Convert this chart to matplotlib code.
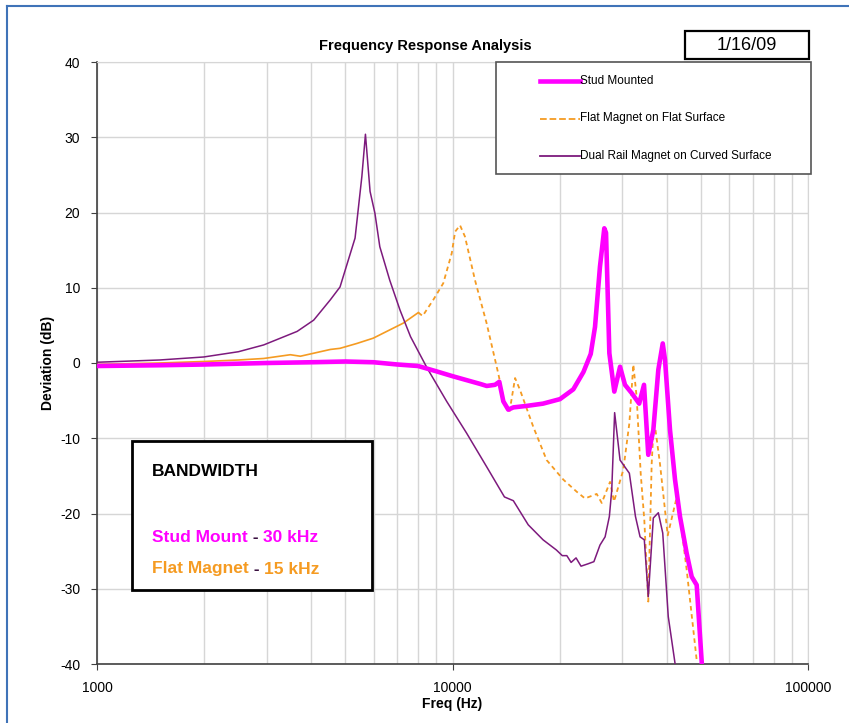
import matplotlib
matplotlib.use("Agg")
import matplotlib.pyplot as plt
from matplotlib.patches import Rectangle
from matplotlib.lines import Line2D

plt.rcParams['font.family'] = ['Liberation Sans', 'DejaVu Sans']
plt.rcParams['axes.unicode_minus'] = False

# Stud mounted accelerometer
stud_freq = [1000, 1500, 2000, 3000, 4000, 5000, 6000, 7000, 8000, 9000,
             10000, 11000, 12000, 12480, 13170, 13540, 13900, 14350, 14830, 16170,
             17970, 20060, 21870, 23350, 24480, 25170, 25990, 26730, 27030, 27620,
             28520, 29600, 30560, 31920, 33510, 34570, 35540, 36720, 37930, 39030,
             39610, 40910, 42260, 43640, 45580, 47080, 48630, 50230]
stud_db = [-0.4, -0.3, -0.2, 0.0, 0.1, 0.2, 0.1, -0.2, -0.4, -1.1,
           -1.75, -2.3, -2.8, -3.05, -2.9, -2.5, -5.1, -6.2, -5.9, -5.7,
           -5.4, -4.8, -3.5, -1.2, 1.2, 4.8, 12.8, 17.9, 17.3, 1.3,
           -3.8, -0.5, -2.9, -4.0, -5.4, -2.9, -12.2, -8.9, -0.9, 2.6,
           0.4, -8.9, -15.5, -20.4, -25.3, -28.4, -29.5, -39.7]

# Flat magnet on a flat surface
flat_freq = [1000, 1500, 2000, 2500, 2943, 3498, 3733, 4533, 4826, 5386,
             5985, 7271, 8013, 8241, 8831, 9420, 9953, 10170, 10500, 10840,
             11570, 12470, 13450, 14050, 14450, 15000, 15490, 16880, 18400, 20500,
             22350, 23590, 25440, 26290, 27740, 28470, 30230, 31440, 32260, 32970,
             33840, 34640, 35540, 36330, 36880, 38340, 40310, 42890, 45580, 48630]
flat_db = [-0.2, 0.0, 0.2, 0.4, 0.6, 1.1, 0.9, 1.8, 1.95, 2.6,
           3.3, 5.3, 6.7, 6.25, 8.4, 10.6, 14.6, 17.45, 18.3, 16.8,
           11.0, 5.3, -1.4, -5.6, -6.6, -2.0, -3.6, -8.5, -12.9, -15.5,
           -17.1, -18.0, -17.4, -18.6, -15.8, -18.4, -14.2, -8.0, -0.2, -4.6,
           -14.7, -20.9, -31.7, -13.4, -7.4, -13.4, -22.9, -17.5, -27.5, -39.5]

# Dual rail magnet on a curved surface
dual_freq = [1000, 1500, 1996, 2500, 2943, 3656, 4070, 4533, 4826, 5320,
             5560, 5690, 5863, 6050, 6245, 6660, 7122, 7620, 7930, 8490,
             9630, 10950, 12480, 14000, 14830, 16330, 17980, 19600, 20360, 20970,
             21560, 22260, 22990, 24010, 24990, 25990, 26870, 27620, 28050, 28580,
             29600, 31440, 32710, 33700, 34640, 35540, 36720, 37930, 39030, 40450,
             42260]
dual_db = [0.1, 0.4, 0.8, 1.5, 2.4, 4.2, 5.7, 8.4, 10.1, 16.6,
           24.8, 30.4, 22.8, 19.9, 15.45, 11.0, 7.0, 3.5, 1.95, -0.7,
           -5.1, -9.3, -13.8, -17.8, -18.3, -21.5, -23.5, -24.85, -25.6, -25.6,
           -26.5, -25.9, -27.0, -26.7, -26.4, -24.2, -23.1, -20.4, -16.9, -6.6,
           -12.9, -14.65, -20.4, -23.1, -23.5, -31.05, -20.6, -19.9, -22.6, -33.7,
           -39.9]

labels = ["Stud Mounted", "Flat Magnet on Flat Surface", "Dual Rail Magnet on Curved Surface"]
MAGENTA = "#FF00FF"
ORANGE = "#F59B22"
PURPLE = "#7D1A7D"

W, H = 849, 723
fig = plt.figure(figsize=(W / 100, H / 100), dpi=100)


def fx(px):
    return px / W


def fy(py):
    return 1 - py / H


ax = fig.add_axes([fx(97), fy(664), fx(808) - fx(97), fy(62) - fy(664)])

ax.plot(stud_freq, stud_db, color=MAGENTA, lw=3.3, solid_joinstyle="round", zorder=4)
# the dense low-frequency part of the flat magnet trace renders as a solid line
split = flat_freq.index(8013) + 1
ax.plot(flat_freq[:split], flat_db[:split], color=ORANGE, lw=1.2, zorder=3)
ax.plot(flat_freq[split - 1:], flat_db[split - 1:], color=ORANGE, lw=1.3,
        linestyle=(0, (2.5, 2)), zorder=3)
ax.plot(dual_freq, dual_db, color=PURPLE, lw=1.1, zorder=3)

ax.set_xscale("log")
ax.set_xlim(1000, 100000)
ax.set_ylim(-40, 40)
ax.set_yticks(range(-40, 41, 10))
ax.set_xticks([1000, 10000, 100000])
ax.set_xticklabels(["1000", "10000", "100000"])
ax.tick_params(axis="x", which="minor", length=0)
ax.tick_params(axis="both", which="major", direction="out", length=4,
               color="#404040", labelsize=10, pad=8)
ax.grid(True, which="both", axis="x", color="#D6D6D6", lw=1)
ax.grid(True, which="major", axis="y", color="#D6D6D6", lw=1)
ax.set_axisbelow(True)
for side in ("top", "right"):
    ax.spines[side].set_color("#D6D6D6")
for side in ("left", "bottom"):
    ax.spines[side].set_color("#404040")
    ax.spines[side].set_linewidth(1.2)

ax.set_xlabel("Freq (Hz)", fontsize=10, fontweight="bold", labelpad=2)
ax.set_ylabel("Deviation (dB)", fontsize=10, fontweight="bold", labelpad=4)

fig.text(fx(425), fy(46), "Frequency Response Analysis", fontsize=10.5,
         fontweight="bold", ha="center", va="center")

# date box
fig.add_artist(Rectangle((fx(685), fy(59)), fx(809) - fx(685), fy(31) - fy(59),
                         transform=fig.transFigure, facecolor="white",
                         edgecolor="black", lw=1.6))
fig.text(fx(747), fy(45), "1/16/09", fontsize=13, ha="center", va="center")

# legend box
fig.add_artist(Rectangle((fx(496), fy(174)), fx(811) - fx(496), fy(62) - fy(174),
                         transform=fig.transFigure, facecolor="white",
                         edgecolor="#555555", lw=1.2, zorder=5))
handles = [
    Line2D([], [], color=MAGENTA, lw=3.3),
    Line2D([], [], color=ORANGE, lw=1.3, linestyle=(0, (2.5, 2))),
    Line2D([], [], color=PURPLE, lw=1.3),
]
for i, (h, lab) in enumerate(zip(handles, labels)):
    yy = 81 + i * 37.5
    fig.add_artist(Line2D([fx(540), fx(580)], [fy(yy), fy(yy)],
                          transform=fig.transFigure, color=h.get_color(),
                          lw=h.get_linewidth(), linestyle=h.get_linestyle(), zorder=6))
    fig.text(fx(580), fy(yy), lab, fontsize=8.5, ha="left", va="center", zorder=6)

# bandwidth annotation box
fig.add_artist(Rectangle((fx(132), fy(590)), fx(372) - fx(132), fy(441) - fy(590),
                         transform=fig.transFigure, facecolor="white",
                         edgecolor="black", lw=2, zorder=5))
fig.text(fx(152), fy(471), "BANDWIDTH", fontsize=12.5, fontweight="bold",
         ha="left", va="center", zorder=6)


def bandwidth_line(py, name, value, color):
    t1 = fig.text(fx(152), fy(py), name, fontsize=12.5, fontweight="bold",
                  color=color, ha="left", va="center", zorder=6)
    fig.canvas.draw()
    bb = t1.get_window_extent()
    t2 = fig.text(bb.x1 / W, fy(py), " - ", fontsize=12.5, fontweight="bold",
                  color="#3A1040", ha="left", va="center", zorder=6)
    fig.canvas.draw()
    bb2 = t2.get_window_extent()
    fig.text(bb2.x1 / W, fy(py), value, fontsize=12.5, fontweight="bold",
             color=color, ha="left", va="center", zorder=6)


bandwidth_line(537, "Stud Mount", "30 kHz", MAGENTA)
bandwidth_line(569, "Flat Magnet", "15 kHz", ORANGE)

# outer chart frame
fig.add_artist(Line2D([fx(7), fx(7)], [0, fy(6)], transform=fig.transFigure,
                      color="#3F73B8", lw=1.5))
fig.add_artist(Line2D([fx(7), 1], [fy(6), fy(6)], transform=fig.transFigure,
                      color="#3F73B8", lw=1.5))

fig.savefig("out.png", dpi=100)
